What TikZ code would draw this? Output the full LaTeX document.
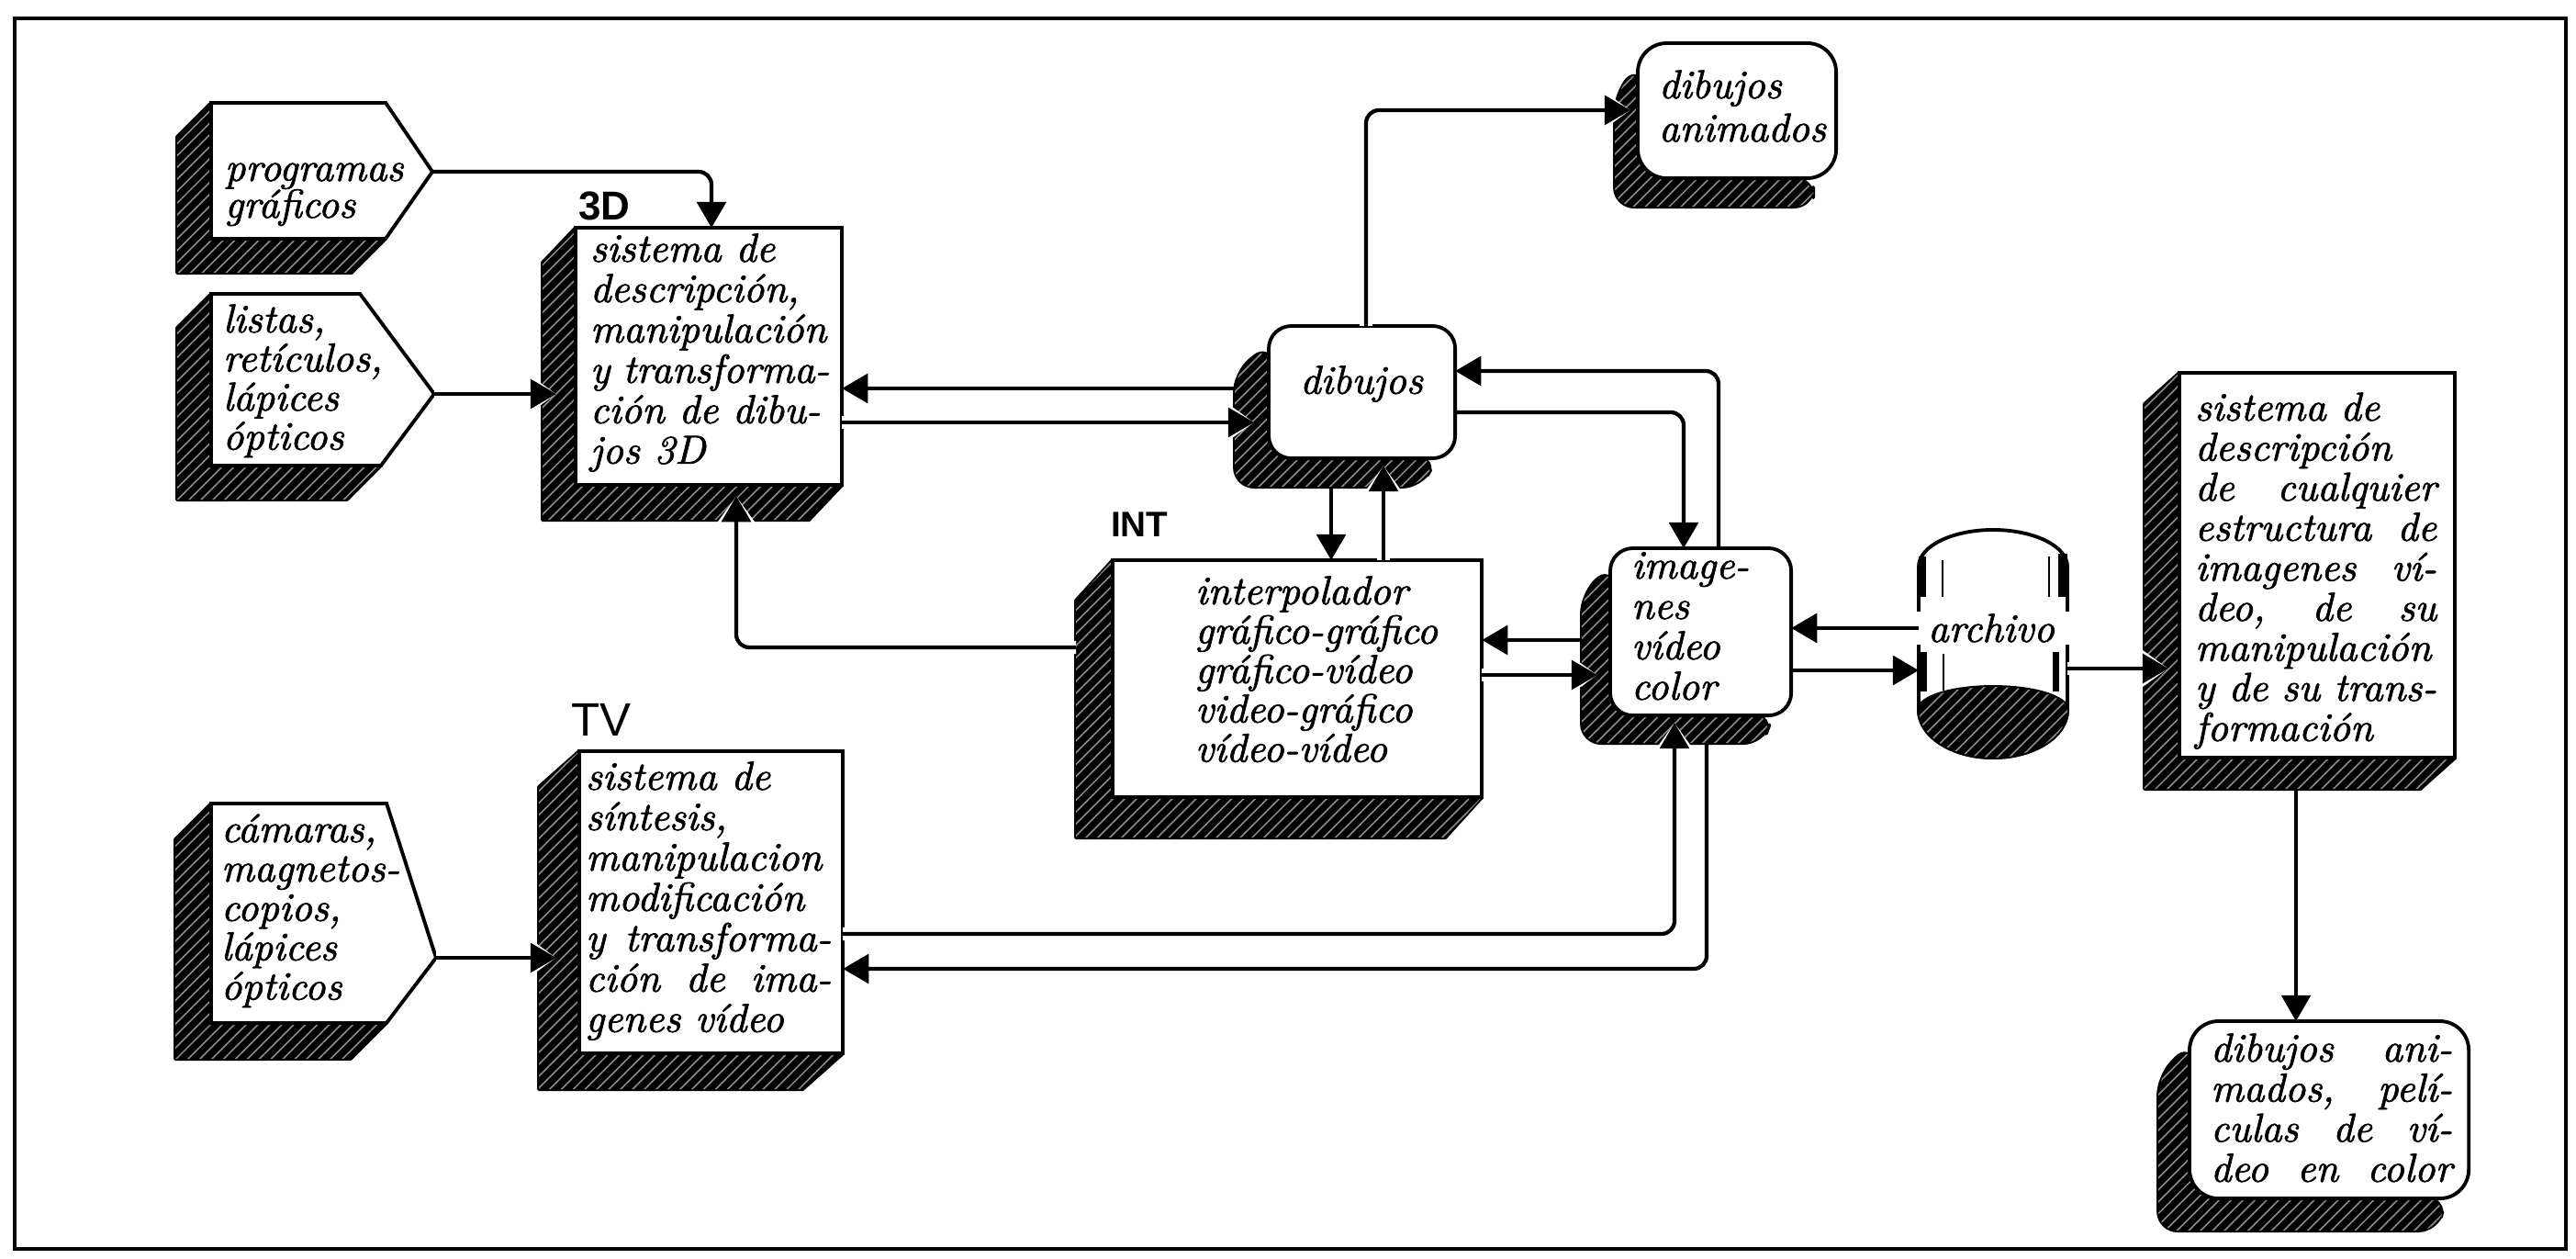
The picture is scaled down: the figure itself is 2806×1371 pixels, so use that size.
\documentclass[tikz,border=0pt]{standalone}
\usepackage{fontspec}
\newfontfamily\lblfont{Liberation Sans}
\newfontfamily\bxfam{lmroman10-italic.otf}[FakeBold=1.6]
\usetikzlibrary{arrows.meta,calc,backgrounds,patterns.meta}

\newcommand\bxfont{\fontsize{12.5}{12.4}\selectfont\bxfam}
\newcommand\Ln[1]{\hbox{#1}}
\newcommand\Lj[2]{\hbox to #1{#2}}
\newcommand\txtblock[2]{\vtop{\baselineskip=#1\lineskiplimit=-40pt\relax #2}}

\newcommand\boxshade[5][]{%
  \path[shd,#1] ($(#2.north west)+(0,#5)$) -- ++(-#3,#4) -- ($(#2.south west)+(-#3,#4)$)
    -- ($(#2.south east)+(-#3,#4)$) -- ($(#2.south east)+(-#5,0)$) -- ($(#2.south west)+(#5,0)$) -- cycle;}
\newcommand\pentshade[4]{%
  \path[shd] (#1.north west) -- ++(-#3,#4) -- ($(#1.south west)+(-#3,#4)$)
    -- ($(#2)+(-#3,#4)$) -- (#2) -- (#1.south west) -- cycle;}

\tikzset{
  face/.style={draw, line width=1.1pt, fill=white, inner sep=0pt, outer sep=0pt, anchor=north west},
  rface/.style={face, rounded corners=7pt},
  pbox/.style={inner sep=0pt, outer sep=0pt, anchor=north west},
  pface/.style={draw, line width=1.1pt, fill=white, line join=miter},
  shd/.style={fill=black, draw=black, line width=1.1pt, line join=round,
    postaction={pattern={Lines[angle=45,distance=2.6pt,line width=0.45pt]}, pattern color=white!55!black}},
  conn/.style={line width=1.2pt, rounded corners=4pt, -{Triangle[width=9pt,length=8pt]}},
  halo/.style={preaction={draw=white, line width=4pt, -{Triangle[width=15pt,length=11pt]}}},
  txt/.style={inner sep=0pt, outer sep=0pt, anchor=base west, font=\bxfont},
  lbl/.style={inner sep=0pt, outer sep=0pt, anchor=base west},
}

\begin{document}
\begin{tikzpicture}[x=0.01cm, y=-0.01cm]
\useasboundingbox (0,0) rectangle (2806,1371);

% ---------- box front faces ----------
\node[pbox, minimum width=1.90cm, minimum height=1.48cm] (prog) at (230,112) {};
\coordinate (progtip) at (471,187);
\coordinate (progbc) at (420,260);
\node[pbox, minimum width=1.62cm, minimum height=1.87cm] (listas) at (230,320) {};
\coordinate (listastip) at (473,429);
\coordinate (listasbc) at (415,507);
\node[pbox, minimum width=1.91cm, minimum height=2.39cm] (cam) at (230,875) {};
\coordinate (camtip) at (475,1043);
\coordinate (cambc) at (421,1114);

\node[face, minimum width=2.90cm, minimum height=2.80cm] (b3d) at (627,248) {};
\node[face, minimum width=2.87cm, minimum height=3.29cm] (tv) at (631,818) {};
\node[rface, minimum width=2.03cm, minimum height=1.44cm] (dib) at (1382,355) {};
\node[rface, rounded corners=9pt, minimum width=2.16cm, minimum height=1.47cm] (anim) at (1784,47) {};
\node[face, minimum width=4.02cm, minimum height=2.58cm] (int) at (1212,610) {};
\node[rface, minimum width=1.97cm, minimum height=1.82cm] (img) at (1754,597) {};
\node[pbox, minimum width=1.62cm, minimum height=2.48cm] (arch) at (2090,577) {};
\node[face, minimum width=3.00cm, minimum height=4.19cm] (rbox) at (2374,406) {};
\node[rface, rounded corners=9pt, minimum width=3.04cm, minimum height=1.93cm] (bbox) at (2385,1112) {};

% ---------- shadows ----------
\begin{scope}[on background layer]
  \fill[white] (0,0) rectangle (2806,1371);
  \pentshade{prog}{progbc}{37}{37}
  \pentshade{listas}{listasbc}{37}{37}
  \pentshade{cam}{cambc}{39}{39}
  \boxshade{b3d}{36}{38}{0}
  \boxshade{tv}{44}{39}{0}
  \boxshade[rounded corners=6pt]{dib}{37}{31}{20}
  \boxshade[rounded corners=6pt]{anim}{25}{31}{25}
  \boxshade{int}{40}{44}{0}
  \boxshade[rounded corners=6pt]{img}{31}{30}{20}
  \boxshade{rbox}{38}{34}{0}
  \boxshade[rounded corners=6pt]{bbox}{34}{35}{25}
\end{scope}

% pentagon faces
\path[pface] (prog.north west) -- (prog.north east) -- (progtip) -- (progbc) -- (prog.south west) -- cycle;
\path[pface] (listas.north west) -- (listas.north east) -- (listastip) -- (listasbc) -- (listas.south west) -- cycle;
\path[pface] (cam.north west) -- (cam.north east) -- (camtip) -- (cambc) -- (cam.south west) -- cycle;

% archivo cylinder
\path[pface] (2090,617) .. controls (2090,594.9) and (2126.3,577) .. (2171,577)
  .. controls (2215.7,577) and (2252,594.9) .. (2252,617) -- (2252,773)
  .. controls (2252,801.7) and (2215.7,825) .. (2171,825)
  .. controls (2126.3,825) and (2090,801.7) .. (2090,773) -- cycle;
\path[shd] (2090,773) .. controls (2090,759.2) and (2126.3,748) .. (2171,748)
  .. controls (2215.7,748) and (2252,759.2) .. (2252,773)
  .. controls (2252,801.7) and (2215.7,825) .. (2171,825)
  .. controls (2126.3,825) and (2090,801.7) .. (2090,773) -- cycle;
\fill (2090,606) rectangle (2098,650);
\fill (2090,710) rectangle (2099,753);
\fill (2242,603) rectangle (2252,650);
\fill (2236,710) rectangle (2243,753);
\draw[line width=0.5pt] (2116,610) -- (2116,650) (2117,712) -- (2117,752) (2232,606) -- (2232,650);

% ---------- texts ----------
\node[txt] (tprog) at (245,197) {\txtblock{11.4pt}{\Ln{programas}\Ln{gráficos}}};
\node[txt] (tlistas) at (243,362) {\txtblock{12.1pt}{\Ln{listas,}\Ln{retículos,}\Ln{lápices}\Ln{ópticos}}};
\node[txt] (tcam) at (241,917) {\txtblock{12.2pt}{\Ln{cámaras,}\Ln{magnetos-}\Ln{copios,}\Ln{lápices}\Ln{ópticos}}};
\node[txt] (t3d) at (643,285) {\txtblock{12.5pt}{\Ln{sistema de}\Ln{descripción,}\Ln{manipulación}\Lj{74pt}{y\hfill transforma-}\Ln{ción de dibu-}\Ln{jos 3D}}};
\node[txt] (ttv) at (638,860) {\txtblock{12.5pt}{\Ln{sistema de}\Ln{síntesis,}\Ln{manipulacion}\Ln{modificación}\Lj{76pt}{y\hfill transforma-}\Lj{76pt}{ción\hfill de\hfill ima-}\Ln{genes vídeo}}};
\node[txt] (tint) at (1302,658) {\txtblock{12.2pt}{\Ln{interpolador}\Ln{gráfico-gráfico}\Ln{gráfico-vídeo}\Ln{video-gráfico}\Ln{vídeo-vídeo}}};
\node[inner sep=0pt, font=\bxfont] (tdib) at (1483,418) {dibujos};
\node[txt] (tanim) at (1807,107) {\txtblock{13.4pt}{\Ln{dibujos}\Ln{animados}}};
\node[txt] (timg) at (1777,630) {\txtblock{12.5pt}{\Ln{image-}\Ln{nes}\Ln{vídeo}\Ln{color}}};
\node[fill=white, inner sep=0pt, minimum width=1.72cm, minimum height=0.36cm, font=\bxfont, anchor=base] (tarch) at (2169,699) {archivo};
\node[txt] (trbox) at (2391,458) {\txtblock{12.4pt}{\Ln{sistema de}\Ln{descripción}\Lj{74.8pt}{de\hfill cualquier}\Lj{74.8pt}{estructura\hfill de}\Lj{74.8pt}{imagenes\hfill ví-}\Lj{74.8pt}{deo,\hfill de\hfill su}\Ln{manipulación}\Lj{74.8pt}{y de su trans-}\Ln{formación}}};
\node[txt] (tbbox) at (2408,1156) {\txtblock{12.4pt}{\Lj{74.8pt}{dibujos\hfill ani-}\Lj{74.8pt}{mados,\hfill pelí-}\Lj{74.8pt}{culas\hfill de\hfill ví-}\Lj{74.8pt}{deo\hfill en\hfill color}}};

% labels
\node[lbl, font=\lblfont\bfseries\fontsize{12.5}{12.5}\selectfont] (l3d) at (630,240) {3D};
\node[lbl, font=\lblfont\bfseries\fontsize{11}{11}\selectfont] (lint) at (1210,585) {INT};
\node[lbl, font=\lblfont\fontsize{14.5}{14.5}\selectfont] (ltv) at (622,802) {TV};

% ---------- connectors ----------
\draw[conn] (progtip) -| ($(b3d.north west)+(148,0)$);
\draw[conn, halo] (listastip) -- ($(b3d.north west)+(-21,181)$);
\draw[conn] ($(dib.north west)+(-37,68)$) -- ($(b3d.north east)+(0,175)$);
\draw[conn, halo] ($(b3d.north east)+(0,212)$) -- ($(dib.north west)+(-16,105)$);
\draw[conn, halo] ($(dib.north west)+(106,0)$) |- ($(anim.north west)+(-8,73)$);
\draw[conn] ($(dib.south west)+(68,31)$) -- ($(int.north west)+(238,0)$);
\draw[conn, halo] ($(int.north west)+(295,0)$) -- ($(dib.south west)+(125,8)$);
\draw[conn] ($(dib.north east)+(0,94)$) -| ($(img.north west)+(80,0)$);
\draw[conn] ($(img.north west)+(118,0)$) |- ($(dib.north east)+(0,49)$);
\draw[conn, halo] ($(int.north west)+(-40,95)$) -| ($(b3d.south west)+(175,12)$);
\draw[conn] ($(img.north west)+(-31,100)$) -- ($(int.north east)+(0,87)$);
\draw[conn, halo] ($(int.north east)+(0,125)$) -- ($(img.north west)+(-14,138)$);
\draw[conn] (arch.north west |- tarch.west) -- (img.east |- tarch.west);
\draw[conn] ($(img.north east)+(0,133)$) -- ($(arch.north west)+(0,153)$);
\draw[conn, halo] ($(arch.north east)+(0,151)$) -- ($(rbox.north west)+(-12,322)$);
\draw[conn, line width=0.9pt] ($(rbox.south west)+(127,34)$) -- ($(bbox.north west)+(116,0)$);
\draw[conn, halo] (camtip) -- ($(tv.north west)+(-25,225)$);
\draw[conn, halo] ($(tv.north east)+(0,199)$) -| ($(img.south west)+(70,8)$);
\draw[conn] ($(img.south west)+(105,31)$) |- ($(tv.north east)+(0,237)$);

% frame
\draw[line width=1.3pt] (16,20) rectangle (2795,1360);
\end{tikzpicture}
\end{document}
